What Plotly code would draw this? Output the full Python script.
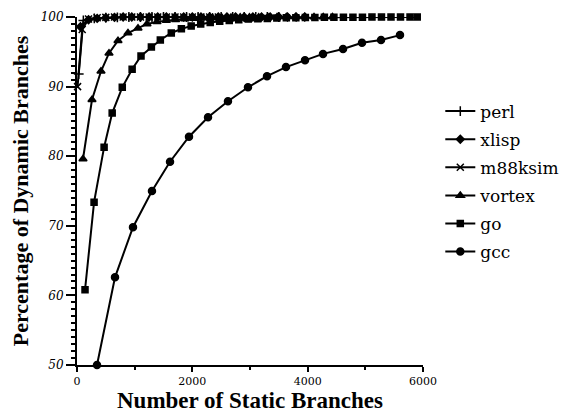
import plotly.graph_objects as go

# ---- data ----
perl_x = [30, 110, 300, 500, 700, 900, 1100, 1300, 1500, 1700, 1900, 2100, 2300, 2500, 2700, 2900, 3100, 3300, 3500]
perl_y = [91.8, 99.5, 99.8, 99.9, 99.95, 100, 100, 100, 100, 100, 100, 100, 100, 100, 100, 100, 100, 100, 100]

xlisp_x = [60, 200, 350, 500, 650, 800, 950, 1100, 1250, 1400, 1550, 1700, 1850, 2000, 2150, 2300, 2450, 2600, 2750, 2900, 3050, 3200, 3350, 3500, 3650, 3800, 3950]
xlisp_y = [98.6, 99.6, 99.8, 99.9, 99.95, 100, 100, 100, 100, 100, 100, 100, 100, 100, 100, 100, 100, 100, 100, 100, 100, 100, 100, 100, 100, 100, 100]

m88_x = [10, 90, 200, 350, 500, 650, 800, 950, 1100, 1250, 1400, 1550, 1700, 1850, 2000, 2150, 2300, 2450]
m88_y = [90.0, 98.2, 99.7, 99.9, 99.95, 100, 100, 100, 100, 100, 100, 100, 100, 100, 100, 100, 100, 100]

vortex_x = [104, 260, 416, 555, 711, 884, 1058, 1214, 1387, 1550, 1710, 1870, 2030, 2190, 2350, 2510, 2670, 2830, 2990,
            3150, 3310, 3470, 3630, 3790, 3950, 4110, 4270, 4430]
vortex_y = [79.6, 88.1, 92.2, 94.8, 96.6, 97.7, 98.4, 99.0, 99.3, 99.5, 99.6, 99.7, 99.8, 99.85, 99.9, 99.92, 99.94, 99.96,
            99.97, 99.98, 99.99, 100, 100, 100, 100, 100, 100, 100]

go_x = [139, 296, 470, 610, 785, 956, 1110, 1290, 1445, 1635, 1810, 1980, 2145, 2310, 2475, 2640, 2805, 2970, 3135, 3300,
        3465, 3630, 3795, 3960, 4125, 4290, 4455, 4620, 4785, 4950, 5115, 5280, 5445, 5610, 5775, 5900]
go_y = [60.8, 73.4, 81.3, 86.2, 89.9, 92.5, 94.4, 95.7, 96.7, 97.7, 98.3, 98.7, 99.0, 99.2, 99.4, 99.5, 99.6, 99.7, 99.75,
        99.8, 99.85, 99.9, 99.9, 99.92, 99.94, 99.95, 99.96, 99.97, 99.98, 99.98, 99.99, 99.99, 100, 100, 100, 100]

gcc_x = [347, 659, 971, 1300, 1613, 1942, 2272, 2618, 2965, 3295, 3624, 3954, 4266, 4613, 4942, 5272, 5601]
gcc_y = [50.0, 62.6, 69.8, 75.0, 79.2, 82.8, 85.6, 87.9, 89.9, 91.5, 92.8, 93.8, 94.7, 95.4, 96.3, 96.7, 97.4]

series = [
    ("perl", perl_x, perl_y, "cross-thin", 7),
    ("xlisp", xlisp_x, xlisp_y, "diamond", 6),
    ("m88ksim", m88_x, m88_y, "x-thin", 7),
    ("vortex", vortex_x, vortex_y, "triangle-up", 7),
    ("go", go_x, go_y, "square", 6),
    ("gcc", gcc_x, gcc_y, "circle", 7),
]

FONT = "Liberation Serif"
FONT2 = "DejaVu Serif"

fig = go.Figure()
for name, xs, ys, sym, sz in series:
    fig.add_trace(go.Scatter(
        x=xs, y=ys, name=name, mode="lines+markers",
        line=dict(color="black", width=2),
        marker=dict(symbol=sym, size=sz, color="black",
                    line=dict(color="black", width=1.5)),
        cliponaxis=False, legendgroup=name,
    ))

# page body adds an 8px margin, so the figure is 8px smaller than the window
fig.update_layout(
    width=570, height=405,
    margin=dict(l=69, r=155, t=9, b=48),
    paper_bgcolor="white", plot_bgcolor="white",
    font=dict(family=FONT, color="black"),
    showlegend=True,
    legend=dict(x=1.05, y=0.78, xanchor="left", yanchor="top",
                font=dict(family=FONT2, size=17, color="black"),
                tracegroupgap=3, itemsizing="trace",
                bgcolor="rgba(0,0,0,0)"),
)

fig.update_xaxes(
    range=[0, 6000], showgrid=False, zeroline=False, automargin=False,
    showline=True, linecolor="black", linewidth=2,
    ticks="outside", ticklen=5, tickwidth=1.5, tickcolor="black",
    tickvals=[0, 2000, 4000, 6000], ticktext=["0", "2000", "4000", "6000"],
    tickfont=dict(family=FONT2, size=11, color="black"),
    minor=dict(tickvals=[1000, 3000, 5000], ticks="outside", ticklen=3, tickcolor="black"),
    title=dict(text="<b>Number of Static Branches</b>", font=dict(family=FONT, size=23, color="black"), standoff=2),
)
fig.update_yaxes(
    range=[50, 100], showgrid=False, zeroline=False, automargin=False,
    showline=True, linecolor="black", linewidth=2,
    ticks="outside", ticklen=9, tickwidth=1.5, tickcolor="black",
    tickvals=[50, 60, 70, 80, 90, 100], ticktext=["50", "60", "70", "80", "90", "100"],
    tickfont=dict(family=FONT2, size=12, color="black", style="italic"),
    minor=dict(dtick=1, ticks="outside", ticklen=4, tickcolor="black", tickwidth=1.5),
    title=dict(text="<b>Percentage of Dynamic Branches</b>", font=dict(family=FONT, size=22, color="black"), standoff=6),
)

fig.write_html("out.html")
